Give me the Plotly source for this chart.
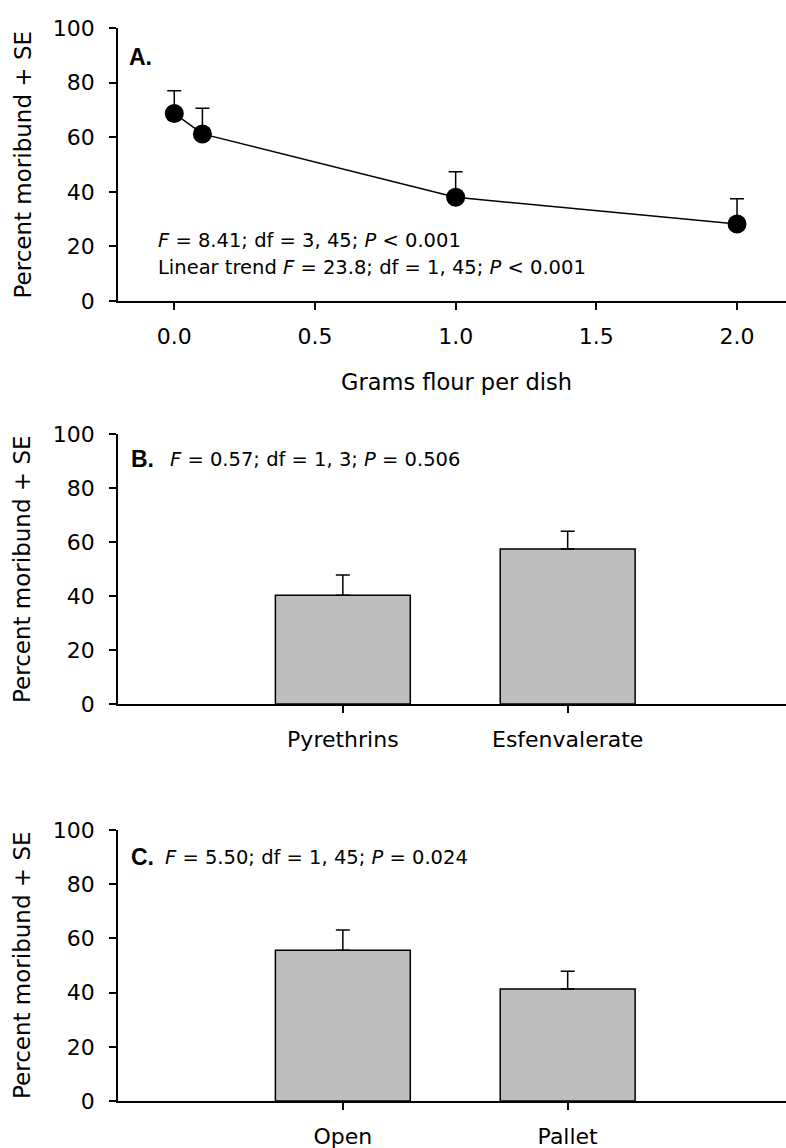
import plotly.graph_objects as go

W, H = 786, 1148

# ---- data ----
flour_g = [0.0, 0.1, 1.0, 2.0]
flour_mean = [68.7, 61.2, 38.0, 28.2]
flour_se = [8.3, 9.4, 9.3, 9.3]

insect_cats = ["Pyrethrins", "Esfenvalerate"]
insect_mean = [40.3, 57.4]
insect_se = [7.5, 6.6]

pos_cats = ["Open", "Pallet"]
pos_mean = [55.6, 41.3]
pos_se = [7.5, 6.6]

y_ticks = [0, 20, 40, 60, 80, 100]
flour_ticks = [0.0, 0.5, 1.0, 1.5, 2.0]
flour_ticktext = ["0.0", "0.5", "1.0", "1.5", "2.0"]

FONT = "DejaVu Sans"
BAR_FILL = "#bebebe"

def px(x):
    return x / W

def py(y):
    return 1 - y / H

fig = go.Figure()

# Panel A
fig.add_trace(go.Scatter(
    x=flour_g, y=flour_mean, mode="lines+markers",
    line=dict(color="black", width=1.5),
    marker=dict(color="black", size=19),
    error_y=dict(type="data", symmetric=False, array=flour_se,
                 arrayminus=[0] * len(flour_se), color="black",
                 thickness=1.5, width=7),
    xaxis="x", yaxis="y", showlegend=False, hoverinfo="skip",
))

# Panel B
fig.add_trace(go.Bar(
    x=insect_cats, y=insect_mean, width=0.6,
    marker=dict(color=BAR_FILL, line=dict(color="black", width=1.5)),
    error_y=dict(type="data", symmetric=False, array=insect_se,
                 arrayminus=[0] * len(insect_se), color="black",
                 thickness=1.5, width=7),
    xaxis="x2", yaxis="y2", showlegend=False, hoverinfo="skip",
))

# Panel C
fig.add_trace(go.Bar(
    x=pos_cats, y=pos_mean, width=0.6,
    marker=dict(color=BAR_FILL, line=dict(color="black", width=1.5)),
    error_y=dict(type="data", symmetric=False, array=pos_se,
                 arrayminus=[0] * len(pos_se), color="black",
                 thickness=1.5, width=7),
    xaxis="x3", yaxis="y3", showlegend=False, hoverinfo="skip",
))

axis_common = dict(
    showline=True, linecolor="black", linewidth=1.5,
    showgrid=False, zeroline=False,
    ticks="outside", ticklen=7, tickwidth=1.5, tickcolor="black",
    tickfont=dict(family=FONT, size=22, color="black"),
    automargin=False,
)

xdom = [px(118), 1.0]
doms = {
    "A": [py(301), py(28)],
    "B": [py(704), py(434)],
    "C": [py(1101), py(830)],
}

fig.update_layout(
    width=W, height=H,
    margin=dict(l=0, r=0, t=0, b=0),
    paper_bgcolor="white", plot_bgcolor="white",
    bargap=0.4,
    xaxis=dict(domain=xdom, anchor="y", range=[-0.2, 2.174],
               tickvals=flour_ticks, ticktext=flour_ticktext,
               ticklabelstandoff=8, **axis_common),
    yaxis=dict(domain=doms["A"], anchor="x", range=[0, 100],
               tickvals=y_ticks, ticklabelstandoff=10, **axis_common),
    xaxis2=dict(domain=xdom, anchor="y2", range=[-1.0, 1.971],
                type="category", ticklabelstandoff=8, **axis_common),
    yaxis2=dict(domain=doms["B"], anchor="x2", range=[0, 100],
                tickvals=y_ticks, ticklabelstandoff=10, **axis_common),
    xaxis3=dict(domain=xdom, anchor="y3", range=[-1.0, 1.971],
                type="category", ticklabelstandoff=8, **axis_common),
    yaxis3=dict(domain=doms["C"], anchor="x3", range=[0, 100],
                tickvals=y_ticks, ticklabelstandoff=10, **axis_common),
)

def ann(text, x, y, size, anchor="left", angle=0, bold=False):
    fam = "Liberation Sans" if bold else FONT
    fig.add_annotation(
        text=f"<b>{text}</b>" if bold else text,
        x=px(x), y=py(y), xref="paper", yref="paper",
        xanchor=anchor, yanchor="middle", showarrow=False,
        textangle=angle,
        font=dict(family=fam, size=size, color="black"),
    )

# y-axis titles
for yc in (164.5, 569, 965):
    ann("Percent moribund + SE", 22, yc, 23, anchor="center", angle=-90)

# x-axis title panel A
ann("Grams flour per dish", 456, 382, 22.5, anchor="center")

# panel labels and statistics
ann("A.", 127, 57, 23, bold=True)
ann("<i>F</i> = 8.41; df = 3, 45; <i>P</i> &lt; 0.001", 156, 240, 19.5)
ann("Linear trend <i>F</i> = 23.8; df = 1, 45; <i>P</i> &lt; 0.001", 156, 267, 19.5)

ann("B.", 129, 459, 23, bold=True)
ann("<i>F</i> = 0.57; df = 1, 3; <i>P</i> = 0.506", 167.5, 459, 19.5)

ann("C.", 129, 857, 23, bold=True)
ann("<i>F</i> = 5.50; df = 1, 45; <i>P</i> = 0.024", 163, 857, 19.5)

fig.write_html(
    "out.html",
    config={"displayModeBar": False},
    post_script="document.body.style.margin='0';document.body.style.overflow='hidden';",
)
